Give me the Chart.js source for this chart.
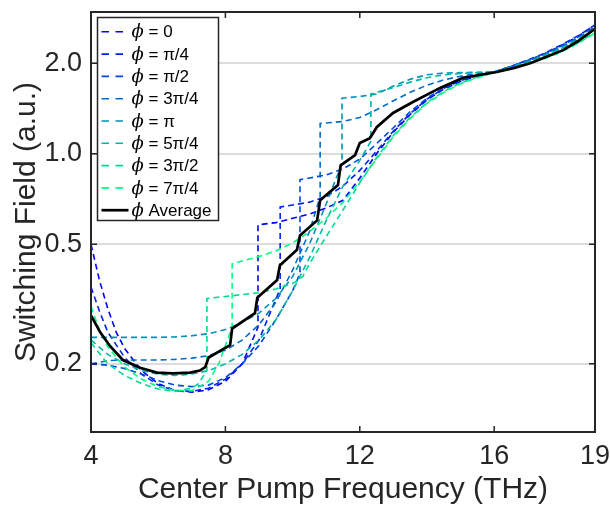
<!DOCTYPE html>
<html>
<head>
<meta charset="utf-8">
<script src="https://cdn.jsdelivr.net/npm/chart.js@4.4.0/dist/chart.umd.min.js"></script>
<style>
html,body{margin:0;padding:0;background:#fff;}
#wrap{width:610px;height:508px;}
</style>
</head>
<body>
<div id="wrap"><canvas id="c" width="610" height="508"></canvas></div>
<script>
// ---- data (frequency in THz, switching field in a.u.) ----
const seriesLabels = ['ϕ = 0','ϕ = π/4','ϕ = π/2','ϕ = 3π/4','ϕ = π','ϕ = 5π/4','ϕ = 3π/2','ϕ = 7π/4','ϕ Average'];
const seriesColors = ['#0000ff','#0024ed','#0049db','#006dc8','#0092b6','#00b6a4','#00db92','#00ff80','#000000'];
const xTickValues = [4, 8, 12, 16, 19];
const yTickValues = [0.2, 0.5, 1.0, 2.0];

const freqPhi0  = [4,4.25,4.5,4.75,5,5.5,6,6.5,7,7.5,8,8.5,8.97,8.97,9.5,10,10.5,11,11.5,12,12.5,13,13.5,14,14.5,15,15.5,16,16.5,17,17.5,18,18.5,19];
const fieldPhi0 = [0.50,0.38,0.305,0.255,0.225,0.19,0.172,0.163,0.161,0.164,0.175,0.2,0.265,0.58,0.59,0.61,0.63,0.66,0.70,0.83,1.0,1.18,1.35,1.51,1.64,1.74,1.81,1.87,1.95,2.04,2.15,2.29,2.46,2.68];

const freqPhi1  = [4,4.25,4.5,5,5.5,6,6.5,7,7.5,8,8.5,9,9.3,9.63,9.63,10,10.5,11,11.5,12,12.5,13,13.5,14,14.5,15,15.5,16,16.5,17,17.5,18,18.5,19];
const fieldPhi1 = [0.36,0.30,0.255,0.21,0.185,0.17,0.163,0.162,0.166,0.178,0.2,0.24,0.29,0.355,0.665,0.675,0.69,0.72,0.78,0.88,1.02,1.19,1.36,1.52,1.65,1.75,1.82,1.87,1.95,2.05,2.16,2.30,2.47,2.68];

const freqPhi2  = [4,4.5,5,5.5,6,6.5,7,7.5,8,8.5,9,9.5,10,10.22,10.22,10.5,11,11.5,12,12.5,13,13.5,14,14.5,15,15.5,16,16.5,17,17.5,18,18.5,19];
const fieldPhi2 = [0.20,0.198,0.193,0.185,0.176,0.17,0.168,0.17,0.18,0.2,0.23,0.28,0.35,0.40,0.82,0.83,0.85,0.89,0.96,1.08,1.22,1.38,1.53,1.66,1.76,1.82,1.87,1.95,2.04,2.15,2.28,2.45,2.66];

const freqPhi3  = [4,4.5,5,5.5,6,6.5,7,7.5,8,8.5,9,9.5,10,10.5,10.82,10.82,11,11.5,12,12.5,13,13.5,14,14.5,15,15.5,16,16.5,17,17.5,18,18.5,19];
const fieldPhi3 = [0.20,0.205,0.206,0.206,0.206,0.207,0.209,0.213,0.222,0.24,0.27,0.32,0.41,0.55,0.72,1.26,1.265,1.28,1.32,1.40,1.50,1.60,1.69,1.76,1.81,1.85,1.87,1.95,2.04,2.14,2.27,2.43,2.64];

const freqPhi4  = [4,4.5,5,5.5,6,6.5,7,7.5,8,8.5,9,9.5,10,10.5,11,11.47,11.47,12,12.5,13,13.5,14,14.5,15,15.5,16,16.5,17,17.5,18,18.5,19];
const fieldPhi4 = [0.245,0.245,0.245,0.245,0.245,0.246,0.248,0.252,0.26,0.275,0.295,0.33,0.39,0.5,0.68,0.93,1.53,1.55,1.58,1.68,1.77,1.83,1.855,1.86,1.865,1.87,1.94,2.02,2.12,2.24,2.40,2.60];

const freqPhi5  = [4,4.5,5,5.5,6,6.5,7,7.5,8,8.5,9,9.5,10,10.5,11,11.5,12,12.33,12.33,12.5,13,13.5,14,14.5,15,15.5,16,16.5,17,17.5,18,18.5,19];
const fieldPhi5 = [0.24,0.215,0.2,0.19,0.185,0.183,0.185,0.19,0.2,0.215,0.24,0.28,0.35,0.45,0.6,0.78,0.95,1.10,1.58,1.60,1.66,1.73,1.79,1.83,1.85,1.86,1.87,1.94,2.02,2.12,2.24,2.40,2.60];

const freqPhi6  = [4,4.5,5,5.5,6,6.5,7,7.2,7.45,7.45,8,8.5,9,9.5,10,10.3,10.5,11,11.5,12,12.5,13,13.5,14,14.5,15,15.5,16,16.5,17,17.5,18,18.5,19];
const fieldPhi6 = [0.235,0.2,0.183,0.172,0.165,0.162,0.166,0.172,0.19,0.33,0.335,0.34,0.345,0.355,0.37,0.39,0.43,0.53,0.65,0.80,0.97,1.15,1.32,1.48,1.61,1.72,1.80,1.86,1.92,1.99,2.08,2.19,2.34,2.53];

const freqPhi7  = [4,4.25,4.5,5,5.5,6,6.5,7,7.5,7.8,8.2,8.2,8.5,9,9.5,10,10.5,11,11.5,12,12.5,13,13.5,14,14.5,15,15.5,16,16.5,17,17.5,18,18.5,19];
const fieldPhi7 = [0.31,0.26,0.228,0.195,0.178,0.168,0.163,0.163,0.175,0.2,0.265,0.43,0.44,0.455,0.475,0.505,0.55,0.61,0.69,0.81,0.96,1.14,1.31,1.47,1.60,1.71,1.79,1.86,1.92,1.99,2.07,2.18,2.33,2.52];

const freqAvg  = [4.0,4.27,4.57,4.95,5.46,5.96,6.44,6.95,7.24,7.40,7.50,8.14,8.20,8.88,8.95,9.54,9.62,10.13,10.22,10.73,10.82,11.35,11.43,11.86,12.0,12.3,12.51,12.99,13.58,14.39,15.07,16.08,16.6,17.07,17.5,18.05,18.5,19.0];
const fieldAvg = [0.29,0.255,0.229,0.206,0.194,0.187,0.186,0.187,0.19,0.195,0.21,0.231,0.262,0.295,0.332,0.38,0.425,0.479,0.535,0.60,0.70,0.787,0.915,0.99,1.085,1.127,1.227,1.366,1.486,1.655,1.79,1.87,1.93,2.0,2.09,2.21,2.37,2.6];

const freqs  = [freqPhi0,freqPhi1,freqPhi2,freqPhi3,freqPhi4,freqPhi5,freqPhi6,freqPhi7,freqAvg];
const fields = [fieldPhi0,fieldPhi1,fieldPhi2,fieldPhi3,fieldPhi4,fieldPhi5,fieldPhi6,fieldPhi7,fieldAvg];

const TXT = '#262626';
const FAMILY = '"Liberation Sans", Arial, Helvetica, sans-serif';
Chart.defaults.font.family = FAMILY;

const datasets = seriesLabels.map((lab, i) => {
  const isAvg = i === 8;
  return {
    label: lab,
    data: freqs[i].map((f, k) => ({x: f, y: fields[i][k]})),
    borderColor: seriesColors[i],
    backgroundColor: seriesColors[i],
    borderWidth: isAvg ? 2.7 : 1.6,
    borderDash: isAvg ? [] : [6, 4],
    pointRadius: 0,
    pointHoverRadius: 0,
    tension: 0,
    fill: false,
    order: 8 - i
  };
});

const framePlugin = {
  id: 'frameLegend',
  afterDraw(chart) {
    const {ctx, chartArea: a, scales} = chart;
    const xs = scales.x, ys = scales.y;
    ctx.save();
    ctx.strokeStyle = TXT;
    ctx.lineWidth = 1.5;
    ctx.setLineDash([]);
    ctx.beginPath();
    yTickValues.forEach(v => {
      const p = ys.getPixelForValue(v);
      ctx.moveTo(a.left, p); ctx.lineTo(a.left + 6, p);
      ctx.moveTo(a.right, p); ctx.lineTo(a.right - 6, p);
    });
    xTickValues.forEach(v => {
      const p = xs.getPixelForValue(v);
      ctx.moveTo(p, a.bottom); ctx.lineTo(p, a.bottom - 6);
      ctx.moveTo(p, a.top); ctx.lineTo(p, a.top + 6);
    });
    ctx.stroke();
    ctx.lineWidth = 2;
    ctx.strokeRect(a.left, a.top, a.right - a.left, a.bottom - a.top);

    const lx = a.left + 6.5, ly = a.top + 5.5, lw = 121, lh = 203;
    ctx.fillStyle = '#ffffff';
    ctx.fillRect(lx, ly, lw, lh);
    ctx.lineWidth = 1.5;
    ctx.strokeStyle = TXT;
    ctx.strokeRect(lx, ly, lw, lh);
    const rowH = 22.3;
    chart.data.datasets.forEach((ds, i) => {
      const yy = ly + 14.3 + rowH * i;
      ctx.strokeStyle = ds.borderColor;
      if (i === 8) {
        ctx.setLineDash([]);
        ctx.lineWidth = 2.7;
        ctx.beginPath(); ctx.moveTo(lx + 4, yy); ctx.lineTo(lx + 31, yy); ctx.stroke();
      } else {
        ctx.setLineDash([7.5, 6.5]);
        ctx.lineWidth = 1.6;
        ctx.beginPath(); ctx.moveTo(lx + 4, yy); ctx.lineTo(lx + 26, yy); ctx.stroke();
      }
      ctx.setLineDash([]);
      ctx.fillStyle = '#000000';
      ctx.textBaseline = 'middle';
      ctx.textAlign = 'left';
      const lab = ds.label;
      const first = lab.charAt(0), rest = lab.slice(1);
      ctx.font = 'italic 18px "DejaVu Serif", "Liberation Serif", serif';
      const tx = lx + 34;
      ctx.fillText(first, tx, yy + 1);
      const w1 = ctx.measureText(first).width;
      ctx.font = '17px ' + FAMILY;
      ctx.fillText(rest, tx + w1, yy + 1);
    });
    ctx.restore();
  }
};

new Chart(document.getElementById('c'), {
  type: 'line',
  data: { datasets },
  options: {
    responsive: false,
    animation: false,
    devicePixelRatio: 1,
    events: [],
    layout: { padding: { top: 12, right: 15, left: 0, bottom: 0 } },
    plugins: { legend: { display: false }, tooltip: { enabled: false }, title: { display: false } },
    scales: {
      x: {
        type: 'linear', min: 4, max: 19,
        afterBuildTicks: s => { s.ticks = xTickValues.map(v => ({value: v})); },
        afterFit: s => { s.height = 76; s.paddingLeft = 0; s.paddingRight = 0; },
        grid: { display: false, drawTicks: false },
        border: { display: false },
        ticks: { font: { size: 27 }, color: TXT, padding: 8, autoSkip: false, maxRotation: 0, callback: v => String(v) },
        title: { display: true, text: 'Center Pump Frequency (THz)', color: TXT, font: { size: 30 }, padding: { top: 0, bottom: 0 } }
      },
      y: {
        type: 'logarithmic', min: 0.1187, max: 2.96, bounds: 'data',
        afterBuildTicks: s => { s.ticks = yTickValues.map(v => ({value: v})); },
        afterFit: s => { s.width = 91; s.paddingTop = 0; s.paddingBottom = 0; },
        grid: { color: '#dcdcdc', lineWidth: 2, drawTicks: false },
        border: { display: false },
        ticks: { font: { size: 27 }, color: TXT, padding: 9, autoSkip: false, callback: v => Number(v).toFixed(1) },
        title: { display: true, text: 'Switching Field (a.u.)', color: TXT, font: { size: 30 }, padding: { top: 9, bottom: 0 } }
      }
    }
  },
  plugins: [framePlugin]
});
</script>
</body>
</html>
